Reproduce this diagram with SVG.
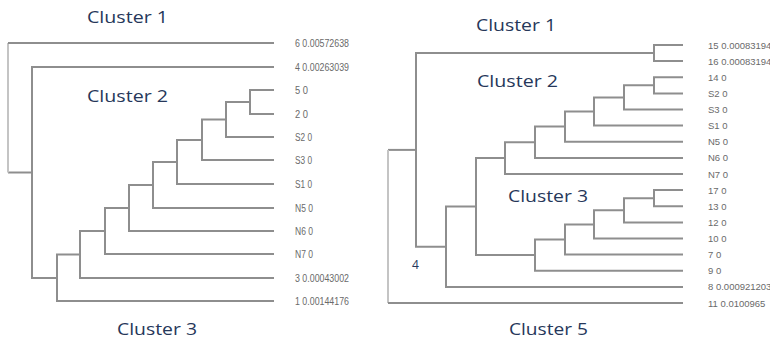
<svg xmlns="http://www.w3.org/2000/svg" width="770" height="340" viewBox="0 0 770 340">
<style>
.e{fill:none;stroke:#8e8e8e;stroke-width:2;stroke-linejoin:miter}
.r{fill:none;stroke:#c4c4c4;stroke-width:2}
.cl{font-family:"Open Sans","Liberation Sans",sans-serif;font-size:16px;fill:#26375a}
.ll{font-family:"Liberation Sans",Arial,sans-serif;font-size:10px;fill:#6a6a6a}
.rl{font-family:"Liberation Sans",Arial,sans-serif;font-size:9.5px;fill:#6a6a6a}
</style>
<rect width="770" height="340" fill="#ffffff"/>
<g id="connectors">
<path class="e" d="M274,90 H250 V114 H274"/>
<path class="e" d="M250,102 H226 V137 H274"/>
<path class="e" d="M226,119.5 H202 V160 H274"/>
<path class="e" d="M202,140 H177 V184 H274"/>
<path class="e" d="M177,162 H153 V208 H274"/>
<path class="e" d="M153,185 H129 V231 H274"/>
<path class="e" d="M129,208 H105 V254 H274"/>
<path class="e" d="M105,231 H80 V278 H274"/>
<path class="e" d="M80,254.5 H57 V301 H274"/>
<path class="e" d="M57,278 H32 V67 H274"/>
<path class="e" d="M32,172.5 H8"/>
<path class="r" d="M8,172.5 V43"/>
<path class="e" d="M8,43 H274"/>
<path class="e" d="M683,45 H654 V61.1 H683"/>
<path class="e" d="M683,77.3 H654 V93.4 H683"/>
<path class="e" d="M654,85.3 H624 V109.5 H683"/>
<path class="e" d="M624,97.4 H594 V125.6 H683"/>
<path class="e" d="M594,111.5 H565 V141.8 H683"/>
<path class="e" d="M565,126.6 H535 V157.9 H683"/>
<path class="e" d="M535,142.3 H505 V174 H683"/>
<path class="e" d="M683,190.1 H654 V206.3 H683"/>
<path class="e" d="M654,198.2 H624 V222.4 H683"/>
<path class="e" d="M624,210.3 H594 V238.5 H683"/>
<path class="e" d="M594,224.4 H565 V254.6 H683"/>
<path class="e" d="M565,239.5 H535 V270.8 H683"/>
<path class="e" d="M505,158.1 H476 V255.1 H535"/>
<path class="e" d="M476,206.6 H446 V286.9 H683"/>
<path class="e" d="M446,246.7 H416 V53.1 H654"/>
<path class="e" d="M416,149.9 H388"/>
<path class="r" d="M388,149.9 V303"/>
<path class="e" d="M388,303 H683"/>
</g>
<g id="left-leaves">
<g id="L6"><text class="ll" x="295" y="46.5" textLength="54" lengthAdjust="spacingAndGlyphs">6 0.00572638</text></g>
<g id="L4"><text class="ll" x="295" y="70.5" textLength="54" lengthAdjust="spacingAndGlyphs">4 0.00263039</text></g>
<g id="L5"><text class="ll" x="295" y="93.5" textLength="13" lengthAdjust="spacingAndGlyphs">5 0</text></g>
<g id="L2"><text class="ll" x="295" y="117.5" textLength="13" lengthAdjust="spacingAndGlyphs">2 0</text></g>
<g id="LS2"><text class="ll" x="295" y="140.5" textLength="17" lengthAdjust="spacingAndGlyphs">S2 0</text></g>
<g id="LS3"><text class="ll" x="295" y="163.5" textLength="17" lengthAdjust="spacingAndGlyphs">S3 0</text></g>
<g id="LS1"><text class="ll" x="295" y="187.5" textLength="17" lengthAdjust="spacingAndGlyphs">S1 0</text></g>
<g id="LN5"><text class="ll" x="295" y="211.5" textLength="18" lengthAdjust="spacingAndGlyphs">N5 0</text></g>
<g id="LN6"><text class="ll" x="295" y="234.5" textLength="18" lengthAdjust="spacingAndGlyphs">N6 0</text></g>
<g id="LN7"><text class="ll" x="295" y="257.5" textLength="18" lengthAdjust="spacingAndGlyphs">N7 0</text></g>
<g id="L3"><text class="ll" x="295" y="281.5" textLength="54" lengthAdjust="spacingAndGlyphs">3 0.00043002</text></g>
<g id="L1"><text class="ll" x="295" y="304.5" textLength="54" lengthAdjust="spacingAndGlyphs">1 0.00144176</text></g>
</g>
<g id="right-leaves">
<g id="R15"><text class="rl" x="708" y="48.5">15 0.00083194</text></g>
<g id="R16"><text class="rl" x="708" y="64.6">16 0.00083194</text></g>
<g id="R14"><text class="rl" x="708" y="80.8">14 0</text></g>
<g id="RS2"><text class="rl" x="708" y="96.9">S2 0</text></g>
<g id="RS3"><text class="rl" x="708" y="113">S3 0</text></g>
<g id="RS1"><text class="rl" x="708" y="129.1">S1 0</text></g>
<g id="RN5"><text class="rl" x="708" y="145.3">N5 0</text></g>
<g id="RN6"><text class="rl" x="708" y="161.4">N6 0</text></g>
<g id="RN7"><text class="rl" x="708" y="177.5">N7 0</text></g>
<g id="R17"><text class="rl" x="708" y="193.6">17 0</text></g>
<g id="R13"><text class="rl" x="708" y="209.8">13 0</text></g>
<g id="R12"><text class="rl" x="708" y="225.9">12 0</text></g>
<g id="R10"><text class="rl" x="708" y="242">10 0</text></g>
<g id="R7"><text class="rl" x="708" y="258.1">7 0</text></g>
<g id="R9"><text class="rl" x="708" y="274.3">9 0</text></g>
<g id="R8"><text class="rl" x="708" y="290.4">8 0.000921203</text></g>
<g id="R11"><text class="rl" x="708" y="306.5">11 0.0100965</text></g>
</g>
<g id="cluster-labels">
<text class="cl" x="87" y="23" textLength="81" lengthAdjust="spacingAndGlyphs">Cluster 1</text>
<text class="cl" x="87" y="102" textLength="81" lengthAdjust="spacingAndGlyphs">Cluster 2</text>
<text class="cl" x="117" y="335" textLength="80" lengthAdjust="spacingAndGlyphs">Cluster 3</text>
<text class="cl" x="476" y="31" textLength="80" lengthAdjust="spacingAndGlyphs">Cluster 1</text>
<text class="cl" x="477" y="87" textLength="81" lengthAdjust="spacingAndGlyphs">Cluster 2</text>
<text class="cl" x="508" y="202" textLength="80" lengthAdjust="spacingAndGlyphs">Cluster 3</text>
<text class="cl" x="509" y="335" textLength="79" lengthAdjust="spacingAndGlyphs">Cluster 5</text>
<text class="cl" x="412" y="269" style="font-size:12px">4</text>
</g>
</svg>
